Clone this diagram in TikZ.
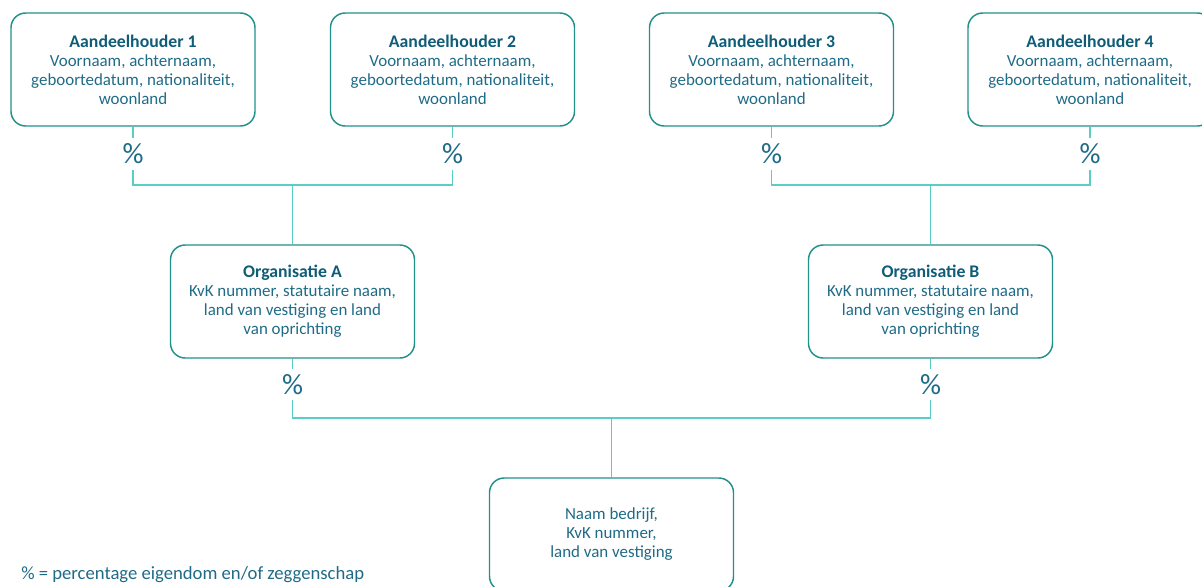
\documentclass[tikz,border=0pt]{standalone}
\usepackage{fontspec}
\setmainfont{Carlito}
\usetikzlibrary{positioning, calc}
\definecolor{boxrand}{HTML}{22918A}
\definecolor{tekst}{HTML}{1F6B87}
\definecolor{kop}{HTML}{0F5C78}
\definecolor{lijn}{HTML}{5ACDC4}
\newcommand{\kop}[1]{{\fontsize{13.3}{14.25}\selectfont\textcolor{kop}{\textbf{#1}}}}

\begin{document}
\begin{tikzpicture}[x=0.75pt,y=-0.75pt]
	\def \rijeen{69.5}
	\def \rijtwee{301.5}
	\def \rijdrie{534.5}
	\def \balkeen{185}
	\def \balktwee{418}
	\tikzstyle{a-node}=[draw=boxrand,line width=1.1pt,rounded corners=11pt,minimum width=183pt,minimum height=84.75pt,align=center,text=tekst,font=\fontsize{12.7}{14.25}\selectfont,inner sep=2pt]
	\tikzstyle{p-node}=[text=tekst,font=\fontsize{22}{24}\selectfont,inner sep=0pt,minimum height=23pt]
	\tikzstyle{lijnstuk}=[draw=lijn,line width=1pt]
	\useasboundingbox (0,0) rectangle (1202,586);

	% aandeelhouders
	\node[a-node] 	(a1)	at (133,\rijeen)	{\kop{Aandeelhouder 1}\\Voornaam, achternaam,\\geboortedatum, nationaliteit,\\woonland};
	\node[a-node] 	(a2)	at (452.5,\rijeen)	{\kop{Aandeelhouder 2}\\Voornaam, achternaam,\\geboortedatum, nationaliteit,\\woonland};
	\node[a-node] 	(a3)	at (771.5,\rijeen)	{\kop{Aandeelhouder 3}\\Voornaam, achternaam,\\geboortedatum, nationaliteit,\\woonland};
	\node[a-node] 	(a4)	at (1090,\rijeen)	{\kop{Aandeelhouder 4}\\Voornaam, achternaam,\\geboortedatum, nationaliteit,\\woonland};

	% organisaties
	\node[a-node] 	(o1)	at (292.5,\rijtwee)	{\kop{Organisatie A}\\KvK nummer, statutaire naam,\\land van vestiging en land\\van oprichting};
	\node[a-node] 	(o2)	at (930.5,\rijtwee)	{\kop{Organisatie B}\\KvK nummer, statutaire naam,\\land van vestiging en land\\van oprichting};

	% bedrijf
	\node[a-node] 	(b0)	at (611.5,\rijdrie)	{Naam bedrijf,\\KvK nummer,\\land van vestiging};

	% percentages
	\node[p-node] 	(p1)	at (133,154)		{\%};
	\node[p-node] 	(p2)	at (452.5,154)		{\%};
	\node[p-node] 	(p3)	at (771.5,154)		{\%};
	\node[p-node] 	(p4)	at (1090,154)		{\%};
	\node[p-node] 	(p5)	at (292.5,384.5)	{\%};
	\node[p-node] 	(p6)	at (930.5,384.5)	{\%};

	% knooppunten
	\coordinate (k1) at (292.5,\balkeen);
	\coordinate (k2) at (930.5,\balkeen);
	\coordinate (k3) at (611.5,\balktwee);

	\path[lijnstuk]
		(a1.south) edge (p1.north)
		(a2.south) edge (p2.north)
		(a3.south) edge (p3.north)
		(a4.south) edge (p4.north)
		(o1.south) edge (p5.north)
		(o2.south) edge (p6.north)
		%
		(k1) edge (o1.north)
		(k2) edge (o2.north)
		(k3) edge (b0.north);
	\draw[lijnstuk] (p1.south) |- (k1) -| (p2.south);
	\draw[lijnstuk] (p3.south) |- (k2) -| (p4.south);
	\draw[lijnstuk] (p5.south) |- (k3) -| (p6.south);

	% legenda
	\node[anchor=west,text=tekst,font=\fontsize{14}{16}\selectfont,inner sep=0pt] (legenda) at (21,575) {\% = percentage eigendom en/of zeggenschap};
\end{tikzpicture}
\end{document}
